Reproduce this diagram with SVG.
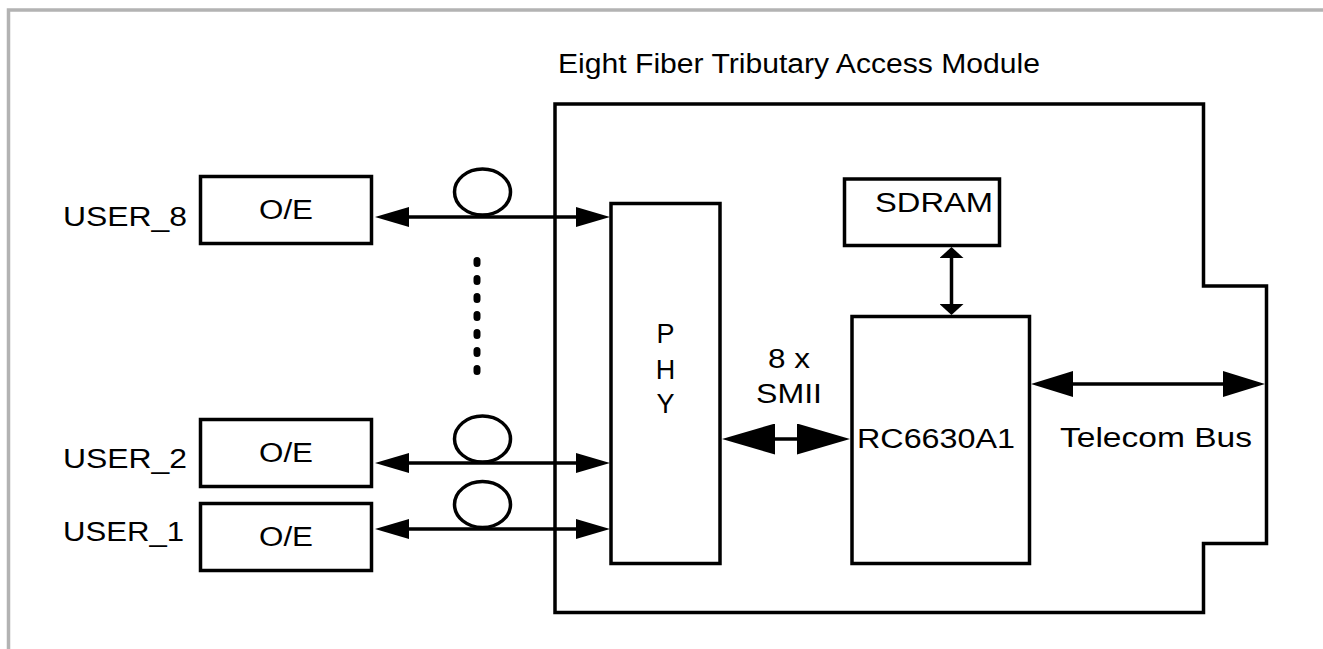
<svg xmlns="http://www.w3.org/2000/svg" width="1323" height="649" viewBox="0 0 1323 649">
<style>
.frame{fill:none;stroke:#b3b3b3;stroke-width:3.5}
.box{fill:#fff;stroke:#000;stroke-width:3.5}
.ln{fill:none;stroke:#000;stroke-width:3.5}
.t{font-family:"Liberation Sans",Arial,sans-serif;font-size:27px;fill:#000}
.c{text-anchor:middle}
</style>
<defs>
<marker id="aF" markerUnits="userSpaceOnUse" viewBox="0 0 34 20" refX="1" refY="10" markerWidth="34" markerHeight="20" orient="auto-start-reverse"><path d="M0,0 L34,10 L0,20 Z"/></marker>
<marker id="aS" markerUnits="userSpaceOnUse" viewBox="0 0 53 31" refX="1" refY="15.5" markerWidth="53" markerHeight="31" orient="auto-start-reverse"><path d="M0,0 L53,15.5 L0,31 Z"/></marker>
<marker id="aT" markerUnits="userSpaceOnUse" viewBox="0 0 42 26" refX="1" refY="13" markerWidth="42" markerHeight="26" orient="auto-start-reverse"><path d="M0,0 L42,13 L0,26 Z"/></marker>
<marker id="aD" markerUnits="userSpaceOnUse" viewBox="0 0 11 24" refX="1" refY="12" markerWidth="11" markerHeight="24" orient="auto-start-reverse"><path d="M0,0 L11,12 L0,24 Z"/></marker>
</defs>
<rect width="1323" height="649" fill="#fff"/>
<path class="frame" d="M1323,10 H8.5 V649"/>

<g id="module">
<path class="ln" d="M555,104 H1203.5 V286 H1266.5 V543.5 H1203.5 V612.5 H555 Z"/>
<text class="t" x="558" y="73" font-size="25" textLength="482" lengthAdjust="spacingAndGlyphs">Eight Fiber Tributary Access Module</text>
</g>

<g id="user8">
<text class="t" x="63" y="226" textLength="124" lengthAdjust="spacingAndGlyphs">USER_8</text>
<rect class="box" x="200.5" y="176.5" width="171" height="67"/>
<text class="t c" x="286" y="219" textLength="54" lengthAdjust="spacingAndGlyphs">O/E</text>
</g>
<g id="user2">
<text class="t" x="63" y="468" textLength="124" lengthAdjust="spacingAndGlyphs">USER_2</text>
<rect class="box" x="200.5" y="419.5" width="171" height="67"/>
<text class="t c" x="286" y="462" textLength="54" lengthAdjust="spacingAndGlyphs">O/E</text>
</g>
<g id="user1">
<text class="t" x="63" y="541" textLength="121" lengthAdjust="spacingAndGlyphs">USER_1</text>
<rect class="box" x="200.5" y="503.5" width="171" height="67"/>
<text class="t c" x="286" y="546" textLength="54" lengthAdjust="spacingAndGlyphs">O/E</text>
</g>

<g id="phy">
<rect class="box" x="611" y="203.5" width="109" height="360"/>
<text class="t c" x="665.5" y="343">P</text>
<text class="t c" x="665.5" y="379">H</text>
<text class="t c" x="665.5" y="413">Y</text>
</g>

<g id="sdram">
<rect class="box" x="844.5" y="179" width="155" height="66.5"/>
<text class="t" x="875" y="212" textLength="118" lengthAdjust="spacingAndGlyphs">SDRAM</text>
</g>

<g id="rc6630a1">
<rect class="box" x="852" y="316.5" width="177.5" height="247"/>
<text class="t" x="857" y="448" textLength="158" lengthAdjust="spacingAndGlyphs">RC6630A1</text>
</g>

<g id="connectors">
<ellipse class="ln" cx="482.5" cy="192" rx="28" ry="23"/>
<ellipse class="ln" cx="482.5" cy="439" rx="28" ry="23"/>
<ellipse class="ln" cx="482.5" cy="504.5" rx="28" ry="23"/>
<path d="M477,260.5 V374" stroke="#000" stroke-width="7" stroke-linecap="round" stroke-dasharray="3 15" fill="none"/>
<path class="ln" d="M408,217 H577" marker-start="url(#aF)" marker-end="url(#aF)"/>
<path class="ln" d="M408,463 H577" marker-start="url(#aF)" marker-end="url(#aF)"/>
<path class="ln" d="M408,529 H577" marker-start="url(#aF)" marker-end="url(#aF)"/>
<path class="ln" stroke-width="4" d="M774,439 H798" marker-start="url(#aS)" marker-end="url(#aS)"/>
<path class="ln" stroke-width="5.5" d="M1072,384 H1224" marker-start="url(#aT)" marker-end="url(#aT)"/>
<path class="ln" stroke-width="4" d="M951.5,257 V305" marker-start="url(#aD)" marker-end="url(#aD)"/>
<text class="t c" x="789" y="368" textLength="42" lengthAdjust="spacingAndGlyphs">8 x</text>
<text class="t c" x="789" y="403" textLength="66" lengthAdjust="spacingAndGlyphs">SMII</text>
<text class="t" x="1060" y="447" textLength="192" lengthAdjust="spacingAndGlyphs">Telecom Bus</text>
</g>
</svg>
